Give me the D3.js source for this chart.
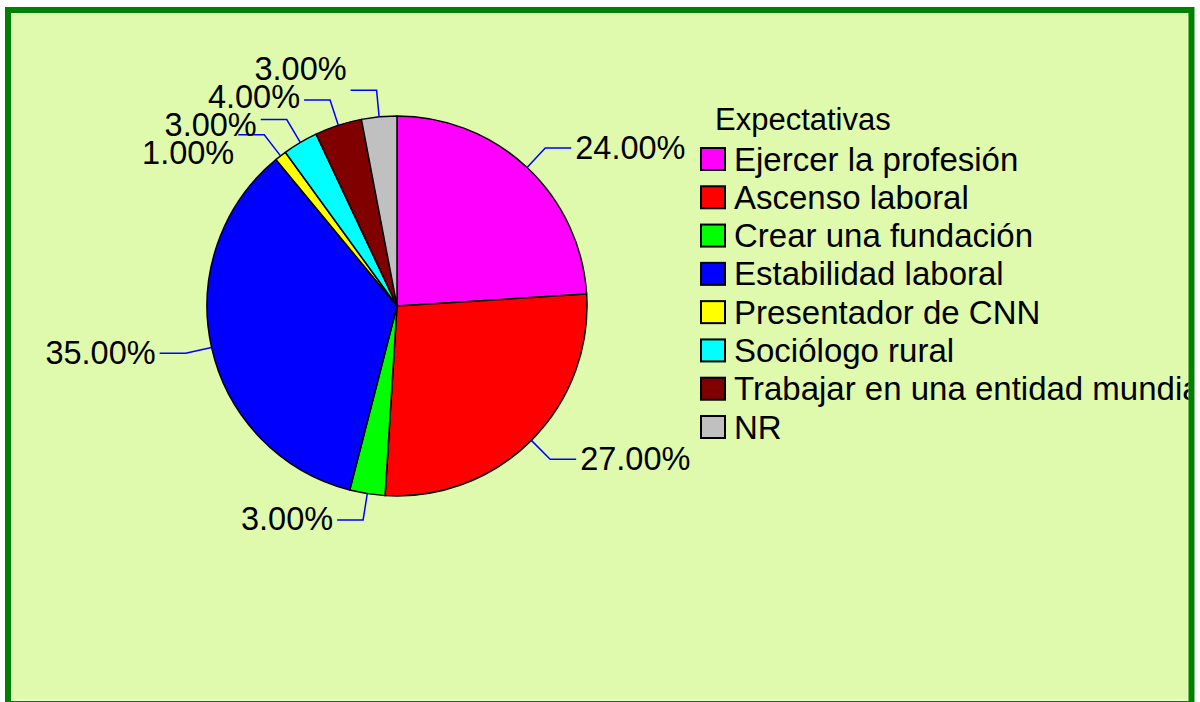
<!DOCTYPE html>
<html>
<head>
<meta charset="utf-8">
<script src="https://cdn.jsdelivr.net/npm/d3@7"></script>
<style>
  html, body { margin: 0; padding: 0; background: #ffffff; }
  svg { display: block; font-family: "Liberation Sans", Arial, sans-serif; }
</style>
</head>
<body>
<div id="chart"></div>
<script>
'use strict';

// Chart data
const categories = ['Ejercer la profesión', 'Ascenso laboral', 'Crear una fundación', 'Estabilidad laboral',
  'Presentador de CNN', 'Sociólogo rural', 'Trabajar en una entidad mundial', 'NR']
const values = [24, 27, 3, 35, 1, 3, 4, 3]
const colors = ['#ff00ff', '#ff0000', '#00ff00', '#0000ff', '#ffff00', '#00ffff', '#800000', '#c0c0c0']
const legendTitle = 'Expectativas'

const width = 1200, height = 702
const cx = 397, cy = 306, radius = 190
const labelSize = 32.5

const svg = d3.select('#chart')
  .append('svg')
  .attr('width', width)
  .attr('height', height)

// frame
svg.append('rect')
  .attr('x', 8).attr('y', 10)
  .attr('width', 1183.5).attr('height', 694)
  .attr('fill', '#dffaac')
  .attr('stroke', '#008000')
  .attr('stroke-width', 6)
svg.append('rect')
  .attr('x', 11.5).attr('y', 13.5)
  .attr('width', 1176).attr('height', 686.5)
  .attr('fill', 'none')
  .attr('stroke', '#ffffff')
  .attr('stroke-width', 1)

svg.append('clipPath').attr('id', 'inner')
  .append('rect').attr('x', 13).attr('y', 15).attr('width', 1175.5).attr('height', 684)

const data = categories.map((c, i) => ({name: c, value: values[i], color: colors[i]}))

const pie = d3.pie().sort(null).value(d => d.value)
const arcs = pie(data)
const arc = d3.arc().innerRadius(0).outerRadius(radius)

const g = svg.append('g').attr('transform', `translate(${cx},${cy})`)

g.selectAll('path.slice')
  .data(arcs)
  .join('path')
  .attr('class', 'slice')
  .attr('d', arc)
  .attr('fill', d => d.data.color)
  .attr('stroke', '#000')
  .attr('stroke-width', 1.5)
  .attr('stroke-linejoin', 'round')

// label geometry
const fmt = v => d3.format('.2f')(v) + '%'
const total = d3.sum(values)

const labels = arcs.map(d => {
  const mid = (d.startAngle + d.endAngle) / 2
  const sx = Math.sin(mid), sy = -Math.cos(mid)
  const side = sx >= 0 ? 1 : -1
  const p0 = [radius * sx, radius * sy]
  const p1 = [radius * 1.14 * sx, radius * 1.14 * sy]
  const p2 = [p1[0] + side * 26, p1[1]]
  return {d, side, pts: [p0, p1, p2], ty: p1[1] - 1}
})

// spread crowded labels on each side so they don't overlap
const gap = 28
;[-1, 1].forEach(side => {
  const list = labels.filter(l => l.side === side).sort((a, b) => a.ty - b.ty)
  for (let iter = 0; iter < 200; iter++) {
    let moved = false
    for (let i = 1; i < list.length; i++) {
      const over = gap - (list[i].ty - list[i - 1].ty)
      if (over > 0.01) {
        list[i - 1].ty -= over / 2
        list[i].ty += over / 2
        moved = true
      }
    }
    if (!moved) break
  }
})

labels.forEach(l => {
  g.append('polyline')
    .attr('points', l.pts.map(p => p.join(',')).join(' '))
    .attr('fill', 'none')
    .attr('stroke', '#0000ff')
    .attr('stroke-width', 1.5)
  g.append('text')
    .attr('x', l.pts[2][0] + l.side * 4)
    .attr('y', l.ty + 11.5)
    .attr('text-anchor', l.side > 0 ? 'start' : 'end')
    .attr('font-size', labelSize)
    .attr('fill', '#000')
    .text(fmt(l.d.data.value / total * 100))
})

// legend
const legend = svg.append('g').attr('clip-path', 'url(#inner)')
const yLegend = d3.scalePoint().domain(categories).range([159, 427])

legend.append('text')
  .attr('x', 715).attr('y', 130)
  .attr('font-size', 31)
  .attr('fill', '#000')
  .text(legendTitle)

const rows = legend.selectAll('g.row')
  .data(data)
  .join('g')
  .attr('class', 'row')
  .attr('transform', d => `translate(0,${yLegend(d.name)})`)

rows.append('rect')
  .attr('x', 701).attr('y', -11)
  .attr('width', 24).attr('height', 22)
  .attr('fill', d => d.color)
  .attr('stroke', '#000')
  .attr('stroke-width', 2)

rows.append('text')
  .attr('x', 734).attr('y', 11.5)
  .attr('font-size', 33)
  .attr('fill', '#000')
  .text(d => d.name)
</script>
</body>
</html>
